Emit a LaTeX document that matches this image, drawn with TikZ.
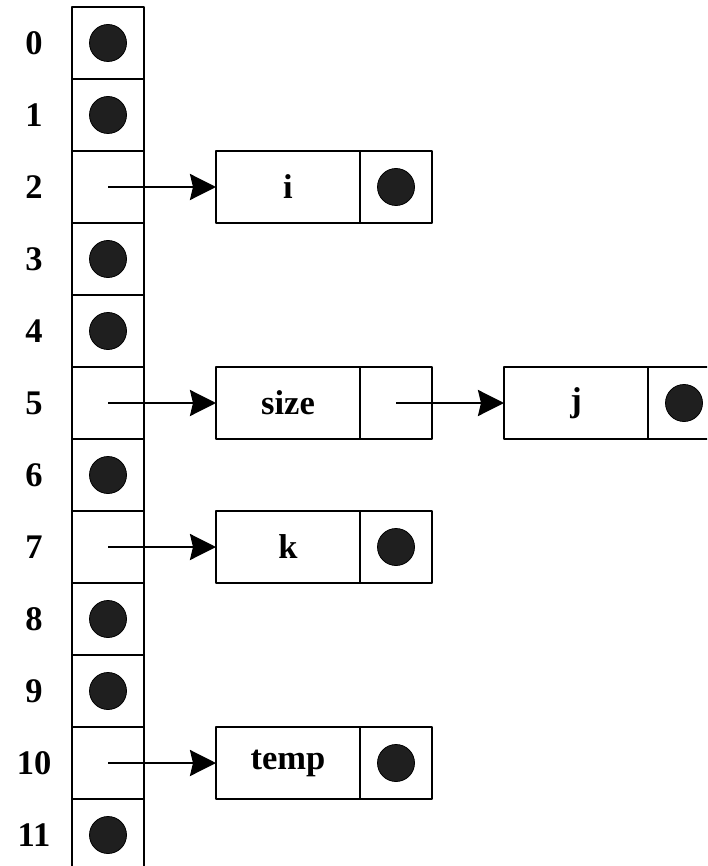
\documentclass[tikz,border=0pt]{standalone}
\usepackage{fontspec}
\setmainfont{Liberation Serif}
\usetikzlibrary{arrows.meta,positioning}
\begin{document}
\begin{tikzpicture}[x=1pt,y=-1pt,line join=round,font=\fontsize{34.5}{40}\selectfont\bfseries,
 >={Stealth[length=26pt,width=26pt,inset=3pt]},
 cell/.style={draw,line width=1.4pt,minimum width=72pt,minimum height=72pt,inner sep=0pt,outer sep=0pt},
 key/.style={cell,minimum width=144pt},
 dot/.style={circle,draw,fill=black!88,line width=0.8pt,minimum size=37pt,inner sep=0pt},
 link/.style={->,line width=2.5pt}]
 \useasboundingbox (0,0) rectangle (707,866);
 \clip (0,0) rectangle (707,866);
 % table
 \foreach \i in {0,...,11}{
   \node[cell] (c\i) at (108,43+72*\i) {};
   \node (n\i) at (34,43+72*\i) {\i};
 }
 \foreach \i in {0,1,3,4,6,8,9,11}
   \node[dot] (d\i) at (c\i) {};
 % chains
 \node[key] (ki) at (288,187) {i};
 \node[cell,right=0pt of ki] (pi) {};
 \node[dot] (di) at (pi) {};
 \node[key] (ks) at (288,403) {size};
 \node[cell,right=0pt of ks] (ps) {};
 \node[key] (kj) at (576,403) {j};
 \node[cell,right=0pt of kj] (pj) {};
 \node[dot] (dj) at (pj) {};
 \node[key] (kk) at (288,547) {k};
 \node[cell,right=0pt of kk] (pk) {};
 \node[dot] (dk) at (pk) {};
 \node[key] (kt) at (288,763) {temp};
 \node[cell,right=0pt of kt] (pt) {};
 \node[dot] (dt) at (pt) {};
 \draw[link] (c2.center) -- (ki.west);
 \draw[link] (c5.center) -- (ks.west);
 \draw[link] (ps.center) -- (kj.west);
 \draw[link] (c7.center) -- (kk.west);
 \draw[link] (c10.center) -- (kt.west);
\end{tikzpicture}
\end{document}
